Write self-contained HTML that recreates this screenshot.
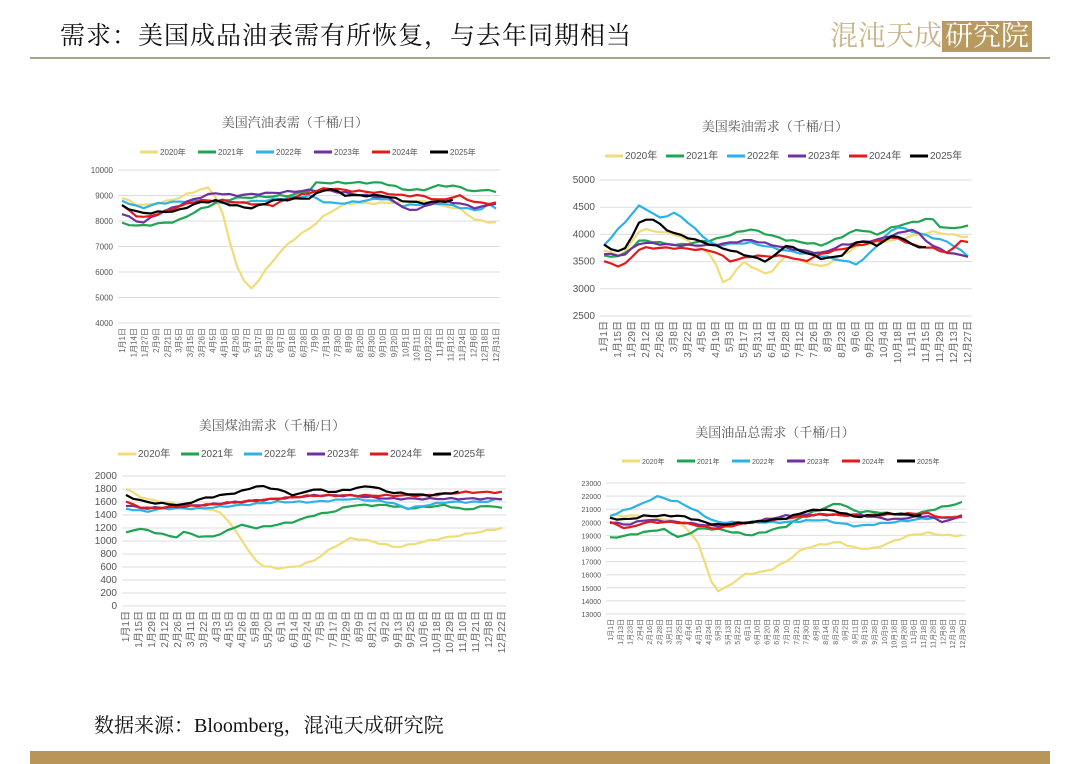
<!DOCTYPE html><html><head><meta charset="utf-8"><style>
body{margin:0;width:1080px;height:764px;background:#fff;overflow:hidden;position:relative;font-family:"Liberation Serif","Noto Serif CJK SC",serif}
.t{position:absolute;left:60px;top:16px;font-size:25px;color:#111;letter-spacing:1px}
.hl{position:absolute;left:30px;top:57px;width:1020px;height:2px;background:#a9a58c}
.logo{position:absolute;left:830px;top:14px;font-size:28px;color:#c9b48a}
.logo span{background:#b89a60;color:#fff;padding:0 3px}
.f{position:absolute;left:94px;top:709px;font-size:20px;color:#111}
.bb{position:absolute;left:30px;top:751px;width:1020px;height:13px;background:#b8965a}
svg{position:absolute;left:0;top:0}
</style></head><body>
<div class="t">需求：美国成品油表需有所恢复，与去年同期相当</div>
<div class="hl"></div>
<div class="logo">混沌天成<span>研究院</span></div>
<div class="f">数据来源：Bloomberg，混沌天成研究院</div>
<div class="bb"></div>
<svg id="s" width="1080" height="764" xmlns="http://www.w3.org/2000/svg"></svg>
<script>
const C=['#f0dc78','#1fa552','#2cb2e6','#7030a0','#e31a1c','#000'];
const Y=['2020年','2021年','2022年','2023年','2024年','2025年'];
const charts=[
{x0:118,x1:500,yt:170,yb:323,min:4000,max:10000,step:1000,title:'美国汽油表需（千桶/日）',tx:295,ty:127,ly:152,lx0:140,lsp:58,fs:8,
labels:['1月1日','1月14日','1月27日','2月9日','2月21日','3月5日','3月15日','3月26日','4月5日','4月16日','4月26日','5月7日','5月17日','5月28日','6月7日','6月18日','6月28日','7月9日','7月19日','7月30日','8月9日','8月20日','8月30日','9月10日','9月20日','10月1日','10月11日','10月22日','11月1日','11月12日','11月24日','12月6日','12月18日','12月31日'],
d:[[[0,8900],[.05,8600],[.1,8700],[.15,8900],[.2,9200],[.23,9300],[.26,8800],[.3,6500],[.33,5500],[.35,5350],[.4,6400],[.45,7200],[.5,7700],[.55,8300],[.6,8700],[.7,8700],[.8,8800],[.85,8600],[.9,8500],[.95,8000],[1,7950]],
[[0,7900],[.05,7800],[.1,7900],[.15,8000],[.2,8400],[.25,8700],[.3,8900],[.45,9000],[.5,9200],[.52,9500],[.6,9500],[.7,9500],[.75,9250],[.8,9200],[.85,9400],[.9,9350],[.95,9100],[.97,9300],[1,9100]],
[[0,8800],[.05,8500],[.1,8700],[.2,8800],[.3,8700],[.45,8900],[.5,9000],[.55,8700],[.6,8700],[.7,8900],[.75,8600],[.85,8700],[.95,8400],[.98,8650],[1,8500]],
[[0,8300],[.05,7900],[.1,8300],[.2,8900],[.25,9100],[.3,9000],[.4,9100],[.5,9200],[.55,9200],[.65,9000],[.72,8900],[.76,8400],[.8,8500],[.85,8800],[.9,8700],[.95,8500],[1,8700]],
[[0,8600],[.05,8100],[.1,8300],[.2,8800],[.27,8800],[.33,8700],[.4,8600],[.45,8900],[.5,9100],[.55,9300],[.6,9200],[.7,9100],[.75,9000],[.8,9000],[.85,8800],[.9,9000],[.95,8700],[1,8700]],
[[0,8600],[.05,8300],[.15,8400],[.2,8700],[.25,8800],[.3,8600],[.35,8500],[.4,8800],[.5,8900],[.55,9300],[.6,9000],[.7,9000],[.75,8800],[.8,8700],[.88,8800]]]},
{x0:600,x1:972,yt:180,yb:316,min:2500,max:5000,step:500,title:'美国柴油需求（千桶/日）',tx:775,ty:131,ly:156,lx0:605,lsp:61,fs:10,
labels:['1月1日','1月15日','1月29日','2月12日','2月26日','3月8日','3月22日','4月5日','4月19日','5月3日','5月17日','5月31日','6月14日','6月28日','7月12日','7月26日','8月9日','8月23日','9月6日','9月20日','10月4日','10月18日','11月1日','11月15日','11月29日','12月13日','12月27日'],
d:[[[0,3700],[.05,3600],[.1,4100],[.2,4000],[.3,3600],[.33,3050],[.38,3500],[.45,3250],[.5,3600],[.6,3400],[.7,3800],[.8,3900],[.9,4050],[1,3950]],
[[0,3600],[.05,3600],[.1,3900],[.2,3800],[.3,3900],[.4,4100],[.5,3900],[.6,3800],[.7,4100],[.75,4000],[.8,4150],[.9,4300],[.93,4100],[1,4150]],
[[0,3800],[.1,4550],[.15,4300],[.2,4400],[.25,4100],[.3,3800],[.4,3850],[.5,3700],[.6,3600],[.7,3450],[.75,3800],[.8,4150],[.85,4050],[.9,3950],[.95,3850],[1,3600]],
[[0,3650],[.05,3600],[.1,3850],[.2,3800],[.3,3800],[.4,3900],[.5,3750],[.6,3650],[.65,3800],[.75,3900],[.8,4000],[.85,4100],[.9,3800],[.95,3650],[1,3600]],
[[0,3500],[.05,3400],[.1,3750],[.2,3750],[.3,3700],[.35,3500],[.4,3600],[.5,3600],[.55,3500],[.6,3650],[.7,3800],[.8,3950],[.85,3800],[.9,3750],[.95,3650],[.98,3900],[1,3850]],
[[0,3800],[.05,3650],[.1,4250],[.13,4300],[.18,4050],[.25,3900],[.3,3800],[.4,3600],[.45,3500],[.5,3800],[.6,3550],[.65,3600],[.7,3900],[.75,3800],[.8,4000],[.85,3800],[.88,3750]]]},
{x0:122,x1:506,yt:476,yb:606,min:0,max:2000,step:200,title:'美国煤油需求（千桶/日）',tx:272,ty:430,ly:454,lx0:118,lsp:63,fs:10,
labels:['1月1日','1月15日','1月29日','2月12日','2月26日','3月11日','3月22日','4月3日','4月15日','4月26日','5月8日','5月20日','6月1日','6月14日','6月24日','7月5日','7月17日','7月29日','8月9日','8月21日','9月2日','9月13日','9月25日','10月6日','10月18日','10月29日','11月10日','11月21日','12月8日','12月22日'],
d:[[[0,1800],[.05,1650],[.15,1550],[.25,1450],[.3,1100],[.33,800],[.36,620],[.4,580],[.45,600],[.5,700],[.55,900],[.6,1050],[.65,1000],[.72,900],[.8,1000],[.9,1100],[1,1200]],
[[0,1120],[.03,1200],[.1,1100],[.13,1050],[.16,1150],[.2,1050],[.25,1100],[.3,1250],[.35,1200],[.4,1250],[.45,1300],[.5,1400],[.55,1450],[.6,1550],[.7,1550],[.75,1500],[.85,1550],[.9,1480],[.97,1550],[1,1500]],
[[0,1500],[.05,1450],[.1,1500],[.2,1500],[.3,1550],[.4,1600],[.5,1600],[.6,1650],[.7,1600],[.75,1500],[.85,1600],[.95,1600],[1,1650]],
[[0,1550],[.05,1500],[.2,1550],[.3,1600],[.4,1650],[.5,1700],[.6,1700],[.7,1650],[.8,1650],[.9,1650],[1,1650]],
[[0,1600],[.05,1500],[.2,1550],[.3,1600],[.4,1650],[.5,1700],[.6,1700],[.7,1700],[.8,1700],[.9,1750],[1,1750]],
[[0,1700],[.05,1600],[.15,1550],[.2,1650],[.3,1750],[.35,1850],[.4,1800],[.45,1700],[.5,1800],[.55,1750],[.6,1800],[.65,1850],[.7,1750],[.8,1700],[.88,1750]]]},
{x0:606,x1:966,yt:483,yb:614,min:13000,max:23000,step:1000,title:'美国油品总需求（千桶/日）',tx:775,ty:437,ly:461,lx0:622,lsp:55,fs:7,
labels:['1月1日','1月13日','1月23日','2月4日','2月16日','2月28日','3月11日','3月25日','4月4日','4月15日','4月24日','5月3日','5月13日','5月22日','6月1日','6月10日','6月20日','6月30日','7月10日','7月21日','7月30日','8月8日','8月14日','8月25日','9月2日','9月11日','9月19日','9月28日','10月9日','10月18日','10月28日','11月6日','11月18日','11月28日','12月8日','12月18日','12月30日'],
d:[[[0,20500],[.05,20500],[.1,20500],[.2,20000],[.25,18500],[.28,16000],[.3,14700],[.33,15000],[.38,16000],[.45,16300],[.5,17000],[.55,18000],[.6,18300],[.65,18500],[.7,18000],[.75,18000],[.8,18500],[.85,19000],[.9,19200],[.95,19000],[1,19000]],
[[0,18800],[.05,19000],[.15,19500],[.2,18800],[.25,19500],[.3,19500],[.4,19000],[.5,19700],[.55,20500],[.6,21000],[.65,21500],[.7,20800],[.75,20800],[.85,20500],[.95,21200],[1,21500]],
[[0,20500],[.05,21000],[.1,21500],[.13,22000],[.2,21500],[.25,20800],[.3,20000],[.4,20000],[.5,20000],[.6,20200],[.7,19700],[.8,20000],[.9,20300],[1,20400]],
[[0,20000],[.05,19800],[.1,20200],[.2,20000],[.3,19700],[.4,20000],[.5,20500],[.6,20600],[.7,20600],[.8,20200],[.9,20500],[.95,20000],[1,20500]],
[[0,20000],[.05,19500],[.1,20000],[.2,20000],[.3,19500],[.4,20000],[.5,20300],[.6,20600],[.7,20500],[.8,20600],[.9,20700],[.95,20300],[1,20500]],
[[0,20300],[.05,20200],[.1,20500],[.2,20500],[.3,19800],[.35,19900],[.4,20000],[.5,20300],[.55,20800],[.6,21000],[.65,20800],[.7,20400],[.8,20700],[.88,20500]]]}];
let h='';const F='font-family="Liberation Sans,Noto Sans CJK SC,sans-serif"';
charts.forEach(c=>{
 const sy=v=>c.yb-(v-c.min)/(c.max-c.min)*(c.yb-c.yt);
 h+=`<text x="${c.tx}" y="${c.ty}" text-anchor="middle" font-size="13" fill="#555" font-family="Liberation Serif,Noto Serif CJK SC,serif">${c.title}</text>`;
 for(let v=c.min;v<=c.max;v+=c.step){const y=sy(v);h+=`<line x1="${c.x0}" x2="${c.x1}" y1="${y}" y2="${y}" stroke="#ddd"/><text x="${c.x0-5}" y="${y+3}" text-anchor="end" font-size="${c.fs}" fill="#555" ${F}>${v}</text>`;}
 Y.forEach((n,i)=>{const x=c.lx0+i*c.lsp;h+=`<line x1="${x}" x2="${x+18}" y1="${c.ly}" y2="${c.ly}" stroke="${C[i]}" stroke-width="3"/><text x="${x+20}" y="${c.ly+3}" font-size="${c.fs}" fill="#555" ${F}>${n}</text>`;});
 const n=c.labels.length;c.labels.forEach((l,i)=>{const x=c.x0+4+i*(c.x1-c.x0-8)/(n-1);h+=`<text transform="translate(${x+3},${c.yb+5}) rotate(-90)" text-anchor="end" font-size="${c.fs}" fill="#666" ${F}>${l}</text>`;});
 c.d.forEach((s,i)=>{let pts=[];const last=s[s.length-1][0];const N=Math.round(52*last);
  for(let k=0;k<=N;k++){const t=k/52;let j=0;while(j<s.length-2&&s[j+1][0]<t)j++;const a=s[j],b=s[j+1];const u=Math.min(1,Math.max(0,(t-a[0])/(b[0]-a[0])));let v=a[1]+(b[1]-a[1])*u;v+=Math.sin(k*2.3+i*1.7)*(c.max-c.min)*0.006;
  pts.push((c.x0+4+t*(c.x1-c.x0-8)).toFixed(1)+','+sy(v).toFixed(1));}
  h+=`<polyline points="${pts.join(' ')}" fill="none" stroke="${C[i]}" stroke-width="2.2" stroke-linejoin="round"/>`;});
});
document.getElementById('s').innerHTML=h;
</script></body></html>
